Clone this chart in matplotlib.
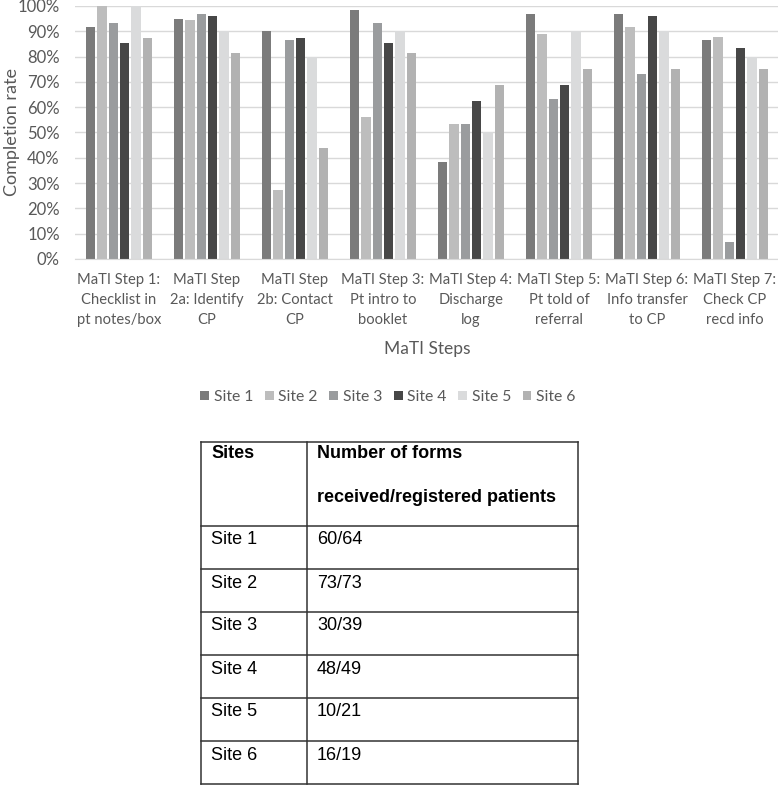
import matplotlib
matplotlib.use('Agg')
import matplotlib.pyplot as plt
import numpy as np

# bar chart data (completion rate %)
steps = ['MaTI Step 1:\nChecklist in\npt notes/box', 'MaTI Step\n2a: Identify\nCP',
         'MaTI Step\n2b: Contact\nCP', 'MaTI Step 3:\nPt intro to\nbooklet',
         'MaTI Step 4:\nDischarge\nlog', 'MaTI Step 5:\nPt told of\nreferral',
         'MaTI Step 6:\nInfo transfer\nto CP', 'MaTI Step 7:\nCheck CP\nrecd info']
site_names = ['Site 1', 'Site 2', 'Site 3', 'Site 4', 'Site 5', 'Site 6']
site1 = [91.7, 95.0, 90.0, 98.3, 38.3, 96.7, 96.7, 86.7]
site2 = [100, 94.5, 27.4, 56.3, 53.4, 89.1, 91.8, 87.6]
site3 = [93.3, 96.7, 86.7, 93.3, 53.3, 63.3, 73.3, 6.8]
site4 = [85.4, 95.9, 87.5, 85.4, 62.6, 68.8, 95.9, 83.3]
site5 = [100, 90, 80, 90, 50, 90, 90, 80]
site6 = [87.4, 81.3, 43.9, 81.3, 68.8, 75.0, 75.0, 75.0]
yticks = [0, 10, 20, 30, 40, 50, 60, 70, 80, 90, 100]

# table data
tab_head = ['Sites', 'Number of forms', 'received/registered patients']
tab_sites = ['Site 1', 'Site 2', 'Site 3', 'Site 4', 'Site 5', 'Site 6']
tab_forms = ['60/64', '73/73', '30/39', '48/49', '10/21', '16/19']

colors = ['#7b7b7b', '#bdbdbd', '#9a9c9e', '#474747', '#dadbdc', '#b2b2b2']
txt = '#595959'
W, H = 778, 785

plt.rcParams['font.family'] = ['Lato', 'DejaVu Sans']

fig = plt.figure(figsize=(W / 100, H / 100), dpi=100)
ax = fig.add_axes([75 / W, 1 - 259 / H, 704 / W, 253 / H])

series = [site1, site2, site3, site4, site5, site6]
x = np.arange(len(steps))
slot = 0.1295
for i, vals in enumerate(series):
    ax.bar(x + (i - 2.5) * slot, vals, width=0.105, color=colors[i],
           label=site_names[i], zorder=2)

ax.set_xlim(-0.5, 7.5)
ax.set_ylim(0, 100)
ax.set_yticks(yticks)
ax.set_yticklabels([f'{v}%' for v in yticks], color=txt, fontsize=12)
ax.set_xticks(x)
ax.set_xticklabels(steps, color=txt, fontsize=10.6, linespacing=1.55)
ax.tick_params(axis='y', length=0, pad=11)
ax.tick_params(axis='x', length=0, pad=10)
ax.yaxis.grid(True, color='#d9d9d9', lw=1, zorder=0)
ax.set_axisbelow(True)
for s in ['top', 'right', 'left']:
    ax.spines[s].set_visible(False)
ax.spines['bottom'].set_color('#d9d9d9')

fig.text(12 / W, 1 - 132 / H, 'Completion rate', rotation=90, ha='center',
         va='center', color=txt, fontsize=13)
fig.text(427 / W, 1 - 349 / H, 'MaTI Steps', ha='center', va='center',
         color=txt, fontsize=12.5)

ax.legend(loc='center', bbox_to_anchor=(388 / W, 1 - 397 / H),
          bbox_transform=fig.transFigure, ncol=6, frameon=False,
          handlelength=0.55, handleheight=0.55, handletextpad=0.3,
          columnspacing=0.75, labelcolor=txt, fontsize=11.3)

# table, drawn on a pixel overlay
ov = fig.add_axes([0, 0, 1, 1])
ov.set_xlim(0, W)
ov.set_ylim(H, 0)
ov.axis('off')
ov.patch.set_alpha(0)

left, mid, right = 201, 307, 578
top, head_bot, row_h = 442, 526, 43
rows = [top, head_bot] + [head_bot + row_h * (k + 1) for k in range(len(tab_sites))]
rows[-1] = min(rows[-1], H - 1.5)
lc = '#333333'
for yy in rows:
    ov.plot([left, right], [yy, yy], color=lc, lw=1.1)
for xx in [left, mid, right]:
    ov.plot([xx, xx], [top, rows[-1]], color=lc, lw=1.1)

tf = ['Liberation Sans', 'DejaVu Sans']
ov.text(left + 10, top + 11, tab_head[0], family=tf, fontsize=13,
        fontweight='bold', va='center', color='black')
ov.text(mid + 10, top + 11, tab_head[1], family=tf, fontsize=13,
        fontweight='bold', va='center', color='black')
ov.text(mid + 10, top + 55, tab_head[2], family=tf,
        fontsize=13, fontweight='bold', va='center', color='black')
for k in range(len(tab_sites)):
    yy = head_bot + row_h * k + 14
    ov.text(left + 10, yy, tab_sites[k], family=tf, fontsize=13,
            va='center', color='black')
    ov.text(mid + 10, yy, tab_forms[k], family=tf, fontsize=13,
            va='center', color='black')

fig.savefig('out.png', dpi=100)
